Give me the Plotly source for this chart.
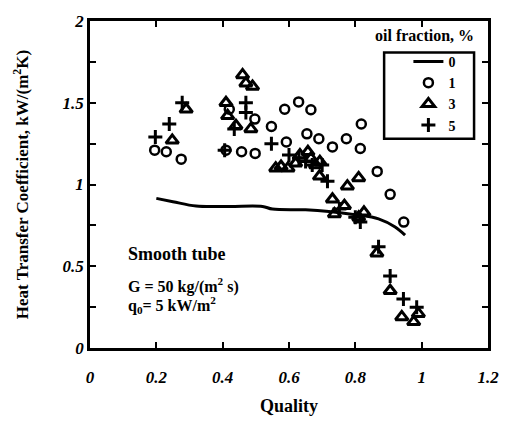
import plotly.graph_objects as go

# 0 % oil (smooth curve)
x_line = [0.20, 0.25, 0.32, 0.42, 0.52, 0.55, 0.65, 0.72, 0.80, 0.87, 0.92, 0.95]
y_line = [0.915, 0.895, 0.868, 0.866, 0.866, 0.85, 0.845, 0.835, 0.815, 0.79, 0.74, 0.69]

# 1 % oil (circles)
x_c1 = [0.195, 0.23, 0.275, 0.42, 0.41, 0.457, 0.498, 0.497, 0.547, 0.587, 0.629,
        0.666, 0.592, 0.654, 0.69, 0.731, 0.773, 0.815, 0.818, 0.866, 0.905, 0.946]
y_c1 = [1.21, 1.20, 1.155, 1.46, 1.21, 1.20, 1.19, 1.40, 1.355, 1.46, 1.505,
        1.457, 1.26, 1.31, 1.28, 1.23, 1.28, 1.22, 1.37, 1.08, 0.94, 0.77]

# 3 % oil (triangles)
x_c3 = [0.248, 0.29, 0.41, 0.415, 0.46, 0.47, 0.49, 0.44, 0.485, 0.56, 0.576, 0.597,
        0.62, 0.633, 0.657, 0.666, 0.693, 0.68, 0.692, 0.776, 0.81, 0.731, 0.767,
        0.737, 0.826, 0.81, 0.865, 0.905, 0.94, 0.976, 0.99]
y_c3 = [1.27, 1.46, 1.50, 1.42, 1.67, 1.62, 1.60, 1.36, 1.34, 1.10, 1.11, 1.10,
        1.13, 1.18, 1.20, 1.16, 1.14, 1.12, 1.05, 0.99, 1.04, 0.91, 0.87,
        0.82, 0.83, 0.80, 0.58, 0.35, 0.19, 0.16, 0.21]

# 5 % oil (plus)
x_c5 = [0.197, 0.239, 0.278, 0.406, 0.435, 0.47, 0.47, 0.547, 0.60, 0.63, 0.65,
        0.67, 0.70, 0.716, 0.752, 0.80, 0.815, 0.87, 0.905, 0.945, 0.985]
y_c5 = [1.29, 1.37, 1.50, 1.21, 1.34, 1.50, 1.44, 1.25, 1.18, 1.16, 1.14,
        1.12, 1.12, 1.02, 0.85, 0.80, 0.77, 0.62, 0.44, 0.30, 0.25]

x_ticks = [0, 0.2, 0.4, 0.6, 0.8, 1.0, 1.2]
x_ticklabels = ["0", "0.2", "0.4", "0.6", "0.8", "1", "1.2"]
y_ticks = [0, 0.25, 0.5, 0.75, 1.0, 1.25, 1.5, 1.75, 2.0]
y_ticklabels = ["0", "", "0.5", "", "1", "", "1.5", "", "2"]

SERIF = "Liberation Serif"

fig = go.Figure()
fig.add_trace(go.Scatter(x=x_line, y=y_line, mode="lines", name="0",
                         line=dict(color="black", width=3, shape="spline")))
fig.add_trace(go.Scatter(x=x_c1, y=y_c1, mode="markers", name="1",
                         marker=dict(symbol="circle-open", size=9, color="black",
                                     line=dict(width=2.5, color="black"))))
fig.add_trace(go.Scatter(x=x_c3, y=y_c3, mode="markers", name="3",
                         marker=dict(symbol="triangle-up-open", size=11, color="black",
                                     line=dict(width=3, color="black"))))
fig.add_trace(go.Scatter(x=x_c5, y=y_c5, mode="markers", name="5",
                         marker=dict(symbol="cross-thin-open", size=10, color="black",
                                     line=dict(width=3, color="black"))))

tickfont = dict(family=SERIF, size=17, color="black", style="italic", weight="bold")

fig.update_layout(
    width=511, height=426,
    margin=dict(l=90, r=19, t=13, b=77),
    paper_bgcolor="white", plot_bgcolor="white",
    showlegend=True,
    legend=dict(x=0.80, y=0.924, xanchor="left", yanchor="top",
                borderwidth=0, bgcolor="rgba(0,0,0,0)",
                font=dict(family=SERIF, size=14, color="black", weight="bold"),
                tracegroupgap=0, itemwidth=30),
    xaxis=dict(range=[0, 1.2], tickvals=x_ticks, ticktext=x_ticklabels,
               ticks="inside", ticklen=6, tickwidth=2, tickcolor="black",
               showline=True, linecolor="black", linewidth=2.5, mirror="ticks",
               showgrid=False, zeroline=False, tickfont=tickfont,
               ticklabelstandoff=12,
               title=dict(text="Quality", font=dict(family=SERIF, size=18, color="black", weight="bold"),
                          standoff=14)),
    yaxis=dict(range=[0, 2], tickvals=y_ticks, ticktext=y_ticklabels,
               ticks="inside", ticklen=6, tickwidth=2, tickcolor="black",
               showline=True, linecolor="black", linewidth=2.5, mirror="ticks",
               showgrid=False, zeroline=False, tickfont=tickfont,
               title=dict(text="Heat Transfer Coefficient, kW/(m<sup>2</sup>K)",
                          font=dict(family=SERIF, size=17, color="black", weight="bold"),
                          standoff=30)),
    shapes=[
        dict(type="rect", xref="paper", yref="paper",
             x0=0.739, x1=0.965, y0=0.64, y1=0.904,
             line=dict(color="black", width=2.5), fillcolor="rgba(0,0,0,0)", layer="above"),
    ],
    annotations=[
        dict(text="oil fraction, %", x=0.97, y=0.955, xref="paper", yref="paper",
             xanchor="right", yanchor="middle", showarrow=False,
             font=dict(family=SERIF, size=16, color="black", weight="bold")),
        dict(text="Smooth tube", x=0.11, y=0.575, xref="x", yref="y",
             xanchor="left", yanchor="middle", showarrow=False,
             font=dict(family=SERIF, size=18, color="black", weight="bold")),
        dict(text="G = 50 kg/(m<sup>2</sup> s)", x=0.11, y=0.38, xref="x", yref="y",
             xanchor="left", yanchor="middle", showarrow=False,
             font=dict(family=SERIF, size=16, color="black", weight="bold")),
        dict(text="q<sub>0</sub>= 5 kW/m<sup>2</sup>", x=0.11, y=0.26, xref="x", yref="y",
             xanchor="left", yanchor="middle", showarrow=False,
             font=dict(family=SERIF, size=16, color="black", weight="bold")),
    ],
)

fig.write_html("out.html", config={"displayModeBar": False},
               post_script="document.body.style.margin='0';")
